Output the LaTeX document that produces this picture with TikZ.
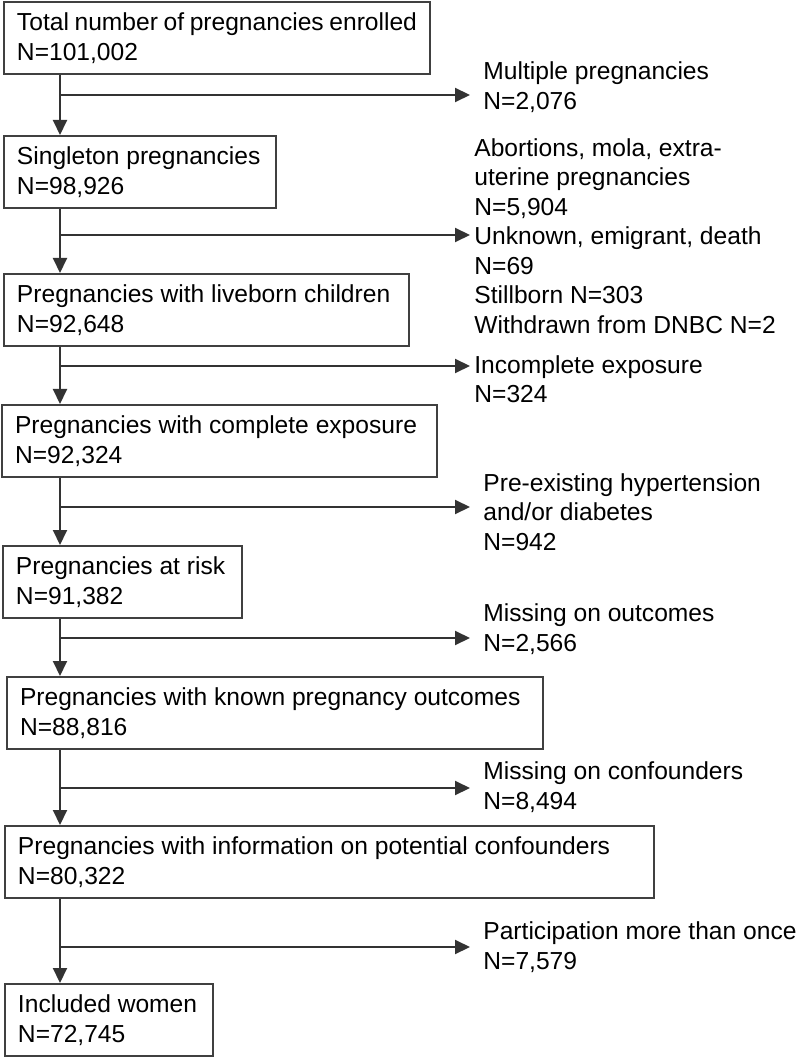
\documentclass[tikz,border=0pt]{standalone}
\usepackage{fontspec}
\setmainfont{Liberation Sans}
\usepackage{tikz}
\usetikzlibrary{arrows.meta}
\tikzset{
    flowbox/.style={draw=black!75, line width=1pt, anchor=north west, align=flush left,
        inner xsep=6.5pt, inner ysep=0pt, minimum height=36pt,
        font=\fontsize{12.3pt}{15pt}\selectfont},
    exclabel/.style={anchor=west, align=left, inner xsep=6.5pt, inner ysep=0pt,
        font=\fontsize{12.3pt}{14.75pt}\selectfont},
    tightlabel/.style={exclabel, inner xsep=2pt},
    flowarrow/.style={draw=black!80, line width=1pt, -{Triangle[length=7.5pt,width=7pt]}}
}

\begin{document}
\begin{tikzpicture}[x=0.5pt, y=-0.5pt]
            \useasboundingbox (0,0) rectangle (800,1058);

            % 1. Boxes of the main flow
            \node[flowbox, text width=200pt] (total) at (3,1) {Total~number~of~pregnancies~enrolled\\N=101,002};
            \node[flowbox, text width=123pt] (single) at (3,135) {Singleton pregnancies\\N=98,926};
            \node[flowbox, text width=189.5pt] (liveborn) at (3,273) {Pregnancies with liveborn children\\N=92,648};
            \node[flowbox, text width=204.5pt] (exposure) at (1,404) {Pregnancies with complete exposure\\N=92,324};
            \node[flowbox, text width=106.5pt] (risk) at (2,545) {Pregnancies at risk\\N=91,382};
            \node[flowbox, text width=255pt] (outcomes) at (6,676) {Pregnancies with known pregnancy outcomes\\N=88,816};
            \node[flowbox, text width=311.5pt] (confound) at (4,825) {Pregnancies with information on potential confounders\\N=80,322};
            \node[flowbox, text width=91pt] (women) at (4,983) {Included women\\N=72,745};

            % 2. Exclusions
            \node[exclabel] (multi) at (470,87) {Multiple pregnancies\\N=2,076};
            \node[tightlabel] (abort) at (470,236) {Abortions, mola, extra-\\uterine pregnancies\\N=5,904\\Unknown, emigrant, death\\N=69\\Stillborn N=303\\Withdrawn from DNBC N=2};
            \node[tightlabel] (incompl) at (470,379) {Incomplete exposure\\N=324};
            \node[exclabel] (preexist) at (470,512) {Pre-existing hypertension\\and/or diabetes\\N=942};
            \node[exclabel] (missout) at (470,629) {Missing on outcomes\\N=2,566};
            \node[exclabel] (missconf) at (470,787) {Missing on confounders\\N=8,494};
            \node[exclabel] (twice) at (470,947) {Participation more than once\\N=7,579};

            % 3. Branch points on the trunk
            \coordinate (b1) at (60,95);
            \coordinate (b2) at (60,235);
            \coordinate (b3) at (60,366);
            \coordinate (b4) at (60,507);
            \coordinate (b5) at (60,638);
            \coordinate (b6) at (60,788);
            \coordinate (b7) at (60,947);

            % 4. Arrows
            \draw[flowarrow] (total.south -| b1) -- (single.north -| b1);
            \draw[flowarrow] (single.south -| b2) -- (liveborn.north -| b2);
            \draw[flowarrow] (liveborn.south -| b3) -- (exposure.north -| b3);
            \draw[flowarrow] (exposure.south -| b4) -- (risk.north -| b4);
            \draw[flowarrow] (risk.south -| b5) -- (outcomes.north -| b5);
            \draw[flowarrow] (outcomes.south -| b6) -- (confound.north -| b6);
            \draw[flowarrow] (confound.south -| b7) -- (women.north -| b7);

            \draw[flowarrow] (b1) -- (b1 -| multi.west);
            \draw[flowarrow] (b2) -- (b2 -| abort.west);
            \draw[flowarrow] (b3) -- (b3 -| incompl.west);
            \draw[flowarrow] (b4) -- (b4 -| preexist.west);
            \draw[flowarrow] (b5) -- (b5 -| missout.west);
            \draw[flowarrow] (b6) -- (b6 -| missconf.west);
            \draw[flowarrow] (b7) -- (b7 -| twice.west);
        \end{tikzpicture}
\end{document}
